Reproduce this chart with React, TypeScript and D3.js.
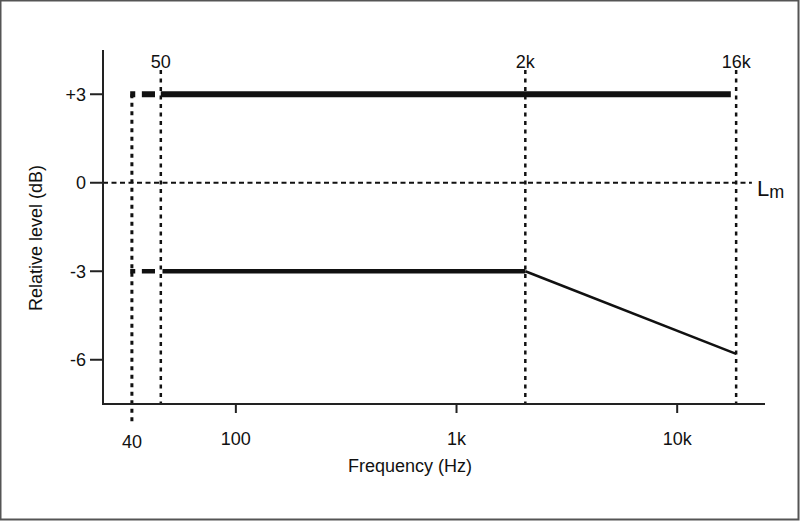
import React from "react";
import * as d3 from "d3";

// ---- data ----
const freqDomain = [25, 25000];
const levelDomain = [-7.5, 4.5];

const yTickValues = [3, 0, -3, -6];
const yTickLabels = ["+3", "0", "-3", "-6"];

const xTickValues = [100, 1000, 10000];
const xTickLabels = ["100", "1k", "10k"];

// marker (dotted vertical) lines: labels and position on the log axis
const markerLabels = ["40", "50", "2k", "16k"];
const markerFreqs = [33.8, 45.7, 2050, 18500];

const upperLevel = 3;
const lowerLevel = -3;
const refLevel = 0;
const refLineEnd = 21800;

// segments of the +3 dB line [start Hz, end Hz]
const upperSegments: [number, number][] = [
  [33.2, 35],
  [37.5, 43],
  [45.7, 17500],
];
// segments of the -3 dB line
const lowerSegments: [number, number][] = [
  [33.2, 35],
  [37.5, 43],
  [46.5, 2050],
];
// roll-off above 2k
const rolloffFreqs = [2050, 18500];
const rolloffLevels = [-3, -5.8];

const W = 800;
const H = 521;
const FONT = "'Liberation Sans', Arial, sans-serif";
const INK = "#111";

export default function App() {
  const x = d3.scaleLog().domain(freqDomain).range([103, 765]);
  const y = d3.scaleLinear().domain(levelDomain).range([404, 50]);

  const rolloffLine = d3
    .line<number>()
    .x((f) => x(f))
    .y((_, i) => y(rolloffLevels[i]));

  const x0 = x.range()[0];
  const x1 = x.range()[1];
  const yBottom = y.range()[0];
  const yTop = y.range()[1];

  return (
    <svg
      width={W}
      height={H}
      style={{ position: "absolute", left: 0, top: 0, background: "#fff" }}
      fontFamily={FONT}
    >
      <rect x={0.5} y={0.5} width={W - 2} height={H - 2} fill="#fff" stroke="#555" strokeWidth={2} />

      {/* 0 dB reference line */}
      <line
        x1={x0}
        x2={x(refLineEnd)}
        y1={y(refLevel)}
        y2={y(refLevel)}
        stroke={INK}
        strokeWidth={2}
        strokeDasharray="5 3.5"
      />
      <text x={757} y={196} fontSize={22} fill={INK}>
        L
        <tspan fontSize={18} dy={2}>
          m
        </tspan>
      </text>

      {/* dotted marker lines */}
      {markerFreqs.map((f, i) => {
        const top = i === 0 ? y(upperLevel) : 70;
        const bottom = i === 0 ? 424 : yBottom;
        return (
          <line
            key={"m" + i}
            x1={x(f)}
            x2={x(f)}
            y1={top}
            y2={bottom}
            stroke={INK}
            strokeWidth={i === 0 ? 3 : 2.5}
            strokeDasharray="4 4.5"
          />
        );
      })}
      {markerLabels.map((l, i) =>
        i === 0 ? (
          <text key={"ml" + i} x={x(markerFreqs[i])} y={448} fontSize={18} textAnchor="middle" fill={INK}>
            {l}
          </text>
        ) : (
          <text key={"ml" + i} x={x(markerFreqs[i])} y={68} fontSize={18} textAnchor="middle" fill={INK}>
            {l}
          </text>
        )
      )}

      {/* +3 dB line */}
      {upperSegments.map(([a, b], i) => (
        <line
          key={"u" + i}
          x1={x(a)}
          x2={x(b)}
          y1={y(upperLevel)}
          y2={y(upperLevel)}
          stroke={INK}
          strokeWidth={6}
        />
      ))}
      {/* -3 dB line */}
      {lowerSegments.map(([a, b], i) => (
        <line
          key={"l" + i}
          x1={x(a)}
          x2={x(b)}
          y1={y(lowerLevel)}
          y2={y(lowerLevel)}
          stroke={INK}
          strokeWidth={4.5}
        />
      ))}
      <path d={rolloffLine(rolloffFreqs) || ""} fill="none" stroke={INK} strokeWidth={2.5} />

      {/* axes */}
      <line x1={x0} x2={x0} y1={yTop} y2={yBottom + 1} stroke="#222" strokeWidth={2} />
      <line x1={x0} x2={x1} y1={yBottom} y2={yBottom} stroke="#222" strokeWidth={2} />
      {yTickValues.map((v, i) => (
        <g key={"yt" + i}>
          <line x1={x0 - 13} x2={x0} y1={y(v)} y2={y(v)} stroke="#222" strokeWidth={2} />
          <text x={x0 - 17} y={y(v)} dy="0.36em" fontSize={18} textAnchor="end" fill={INK}>
            {yTickLabels[i]}
          </text>
        </g>
      ))}
      {xTickValues.map((v, i) => (
        <g key={"xt" + i}>
          <line x1={x(v)} x2={x(v)} y1={yBottom} y2={yBottom + 9} stroke="#222" strokeWidth={2} />
          <text x={x(v)} y={445} fontSize={18} textAnchor="middle" fill={INK}>
            {xTickLabels[i]}
          </text>
        </g>
      ))}

      <text x={410} y={472} fontSize={18} textAnchor="middle" fill={INK}>
        Frequency (Hz)
      </text>
      <text
        transform="translate(36,238) rotate(-90)"
        fontSize={18}
        textAnchor="middle"
        dominantBaseline="central"
        fill={INK}
      >
        Relative level (dB)
      </text>
    </svg>
  );
}
